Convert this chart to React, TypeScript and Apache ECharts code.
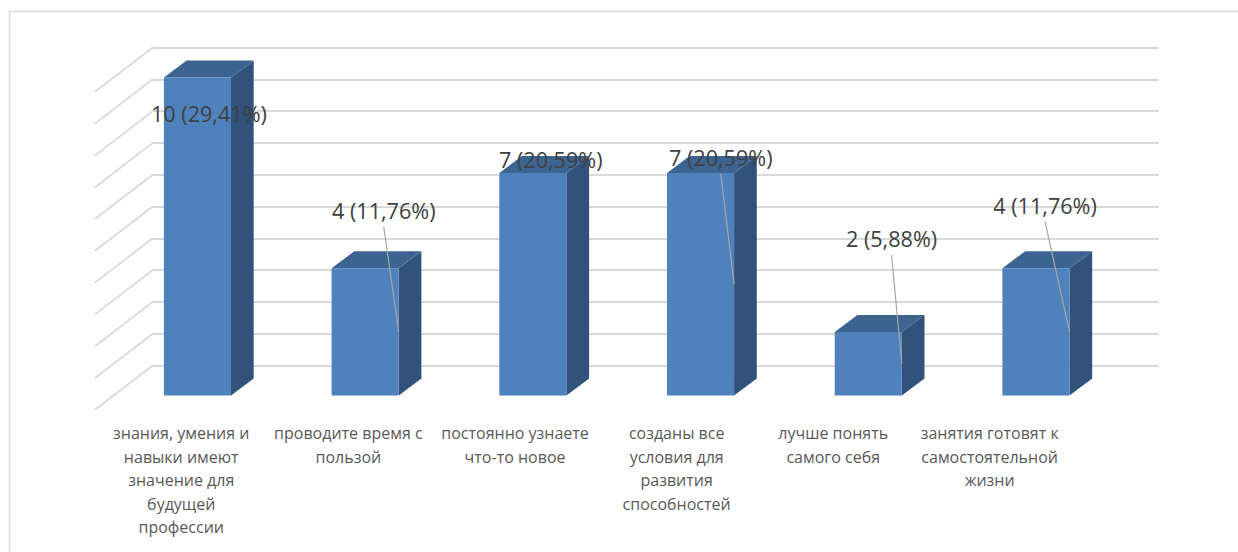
import React, { useEffect, useRef } from "react";
import * as echarts from "echarts";

// ---- data ----
const categories: string[] = [
  "знания, умения и\nнавыки имеют\nзначение для\nбудущей\nпрофессии",
  "проводите время с\nпользой",
  "постоянно узнаете\nчто-то новое",
  "созданы все\nусловия для\nразвития\nспособностей",
  "лучше понять\nсамого себя",
  "занятия готовят к\nсамостоятельной\nжизни",
];
const counts: number[] = [10, 4, 7, 7, 2, 4];
const percents: string[] = ["29,41", "11,76", "20,59", "20,59", "5,88", "11,76"];
const yTicks: number[] = [0, 1, 2, 3, 4, 5, 6, 7, 8, 9, 10];

// ---- layout (not data) ----
const labelOffsetX = [11.5, 18.6, 17.9, 20.2, 23.3, 9.1];
const labelOffsetY = [35.8, -58.3, -13.6, -15.9, -93.6, -63.3];
const hasLeader = [false, true, false, true, true, true];
const catShiftX = [-16.2, -16.8, -17.8, -23.9, -35, -46.3];
const DX = 22.7; // bar depth offset
const DY = -17;
const WALL_DX = 57.7;
const WALL_DY = 44.3;

export default function App() {
  const ref = useRef<HTMLDivElement>(null);
  useEffect(() => {
    if (!ref.current) return;
    const chart = echarts.init(ref.current, undefined, { renderer: "svg" });
    const grid0 = { left: 113.6, top: 77.5, width: 1006.2, height: 318 };
    const grid1 = { left: 152.7, top: 47.5, width: 1006.2, height: 318 };
    chart.setOption({
      animation: false,
      backgroundColor: "#ffffff",
      graphic: [
        {
          type: "rect",
          shape: { x: 9.5, y: 11.5, width: 1250, height: 570 },
          style: { fill: "none", stroke: "#d9d9d9", lineWidth: 1.5 },
          silent: true,
        },
      ],
      grid: [grid0, grid1],
      xAxis: [
        {
          type: "category",
          gridIndex: 0,
          data: categories,
          axisLine: { show: false },
          axisTick: { show: false },
          axisLabel: { show: false },
        },
        {
          type: "value",
          gridIndex: 1,
          min: 0,
          max: 1,
          show: false,
        },
      ],
      yAxis: [
        {
          type: "value",
          gridIndex: 0,
          min: 0,
          max: 10,
          interval: 1,
          show: false,
          splitLine: { show: false },
        },
        {
          type: "value",
          gridIndex: 1,
          min: 0,
          max: 10,
          interval: 1,
          axisLine: { show: false },
          axisTick: { show: false },
          axisLabel: { show: false },
          splitLine: { show: true, lineStyle: { color: "#d9d9d9", width: 1.8 } },
        },
      ],
      series: [
        {
          type: "custom",
          xAxisIndex: 1,
          yAxisIndex: 1,
          data: yTicks.map((v) => [0, v]),
          encode: { x: 0, y: 1 },
          silent: true,
          z: 1,
          renderItem: (params: any, api: any) => {
            const v = api.value(1);
            const p = api.coord([0, v]);
            const x = params.coordSys.x;
            return {
              type: "line",
              shape: { x1: x, y1: p[1], x2: x - WALL_DX, y2: p[1] + WALL_DY },
              style: { stroke: "#d9d9d9", lineWidth: 1.8 },
            };
          },
        },
        {
          type: "custom",
          xAxisIndex: 0,
          yAxisIndex: 0,
          data: counts.map((v, i) => [i, v]),
          encode: { x: 0, y: 1 },
          z: 5,
          renderItem: (params: any, api: any) => {
            const i = api.value(0);
            const v = api.value(1);
            const top = api.coord([i, v]);
            const base = api.coord([i, 0]);
            const w = api.size([1, 0])[0] * 0.4;
            const l = top[0] - w / 2;
            const r = l + w;
            const y = top[1];
            const y0 = base[1];
            const lx = top[0] + labelOffsetX[i];
            const ly = y + labelOffsetY[i];
            const children: any[] = [
              {
                type: "polygon",
                shape: { points: [[r, y], [r + DX, y + DY], [r + DX, y0 + DY], [r, y0]] },
                style: { fill: "#31527b" },
              },
              {
                type: "polygon",
                shape: { points: [[l, y], [l + DX, y + DY], [r + DX, y + DY], [r, y]] },
                style: { fill: "#3c6491" },
              },
              {
                type: "rect",
                shape: { x: l, y: y, width: w, height: y0 - y },
                style: { fill: "#4f81bd" },
              },
            ];
            if (hasLeader[i]) {
              children.push({
                type: "line",
                shape: { x1: lx, y1: ly + 16.7, x2: r, y2: (y + y0) / 2 },
                style: { stroke: "#a6a6a6", lineWidth: 1.2 },
              });
            }
            children.push({
              type: "text",
              style: {
                x: lx,
                y: ly,
                text: `${counts[i]} (${percents[i]}%)`,
                fill: "#404040",
                font: '21.6px "Open Sans"',
                align: "center",
                verticalAlign: "middle",
              },
            });
            children.push({
              type: "text",
              style: {
                x: base[0] + catShiftX[i],
                y: y0 + 26,
                text: categories[i],
                fill: "#595959",
                font: '16px "Open Sans"',
                lineHeight: 23.5,
                align: "center",
                verticalAlign: "top",
              },
            });
            return { type: "group", children };
          },
        },
      ],
    });
    return () => chart.dispose();
  }, []);
  return (
    <div
      ref={ref}
      style={{ position: "absolute", left: 0, top: 0, width: 1238, height: 552, background: "#fff" }}
    />
  );
}
